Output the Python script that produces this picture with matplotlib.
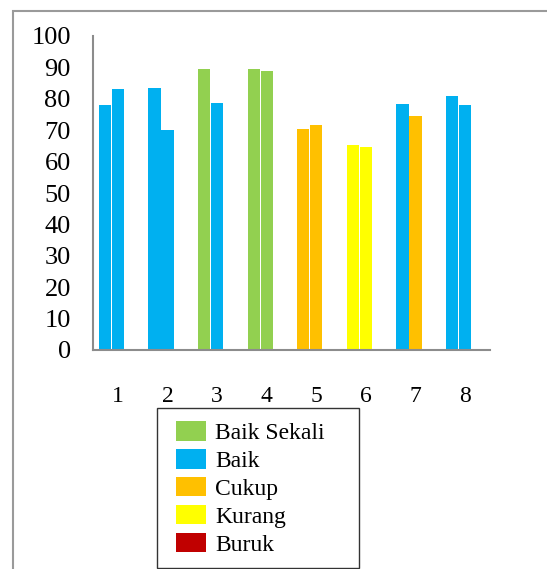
import numpy as np
import matplotlib
matplotlib.use("Agg")
import matplotlib.pyplot as plt
from matplotlib.patches import Rectangle, Patch

plt.rcParams["font.family"] = ["Liberation Serif", "DejaVu Serif"]

# data
groups = ["1", "2", "3", "4", "5", "6", "7", "8"]
vals_a = [78, 83.5, 89.5, 89.5, 70.5, 65.4, 78.5, 80.9]
vals_b = [83, 70, 78.8, 88.9, 71.8, 64.7, 74.5, 77.9]
kat_a = ["Baik", "Baik", "Baik Sekali", "Baik Sekali", "Cukup", "Kurang", "Baik", "Baik"]
kat_b = ["Baik", "Baik", "Baik", "Baik Sekali", "Cukup", "Kurang", "Cukup", "Baik"]

kategori = ["Baik Sekali", "Baik", "Cukup", "Kurang", "Buruk"]
warna = {"Baik Sekali": "#92D050", "Baik": "#00B0F0", "Cukup": "#FFC000",
         "Kurang": "#FFFF00", "Buruk": "#C00000"}

fig = plt.figure(figsize=(5.47, 5.69), dpi=100)
ax = fig.add_axes([93 / 547, 1 - 350 / 569, 397 / 547, 314 / 569])

x = np.arange(len(groups))
w = 0.262
ax.bar(x - w, vals_a, width=w * 0.95, color=[warna[k] for k in kat_a], linewidth=0)
ax.bar(x, vals_b, width=w * 0.95, color=[warna[k] for k in kat_b], linewidth=0)

ax.set_xlim(-0.5, len(groups) - 0.5)
ax.set_ylim(0, 100)
ax.set_yticks(range(0, 101, 10))
ax.set_xticks(x)
ax.set_xticklabels(groups)
ax.tick_params(axis="y", length=0, pad=16, labelsize=19)
ax.tick_params(axis="x", length=0, pad=26, labelsize=17)

for s in ["top", "right"]:
    ax.spines[s].set_visible(False)
for s in ["left", "bottom"]:
    ax.spines[s].set_color("#8c8c8c")
    ax.spines[s].set_linewidth(1.5)

# bingkai luar (terpotong di kanan dan bawah)
fig.patches.append(Rectangle((13 / 547, -0.1), 1.2, 1 - 10.5 / 569 + 0.1,
                             transform=fig.transFigure, fill=False,
                             edgecolor="#9a9a9a", linewidth=1.5))

# kotak legenda
fig.patches.append(Rectangle((157 / 547, 1 - 568 / 569), 202 / 547, 160 / 569,
                             transform=fig.transFigure, fill=False,
                             edgecolor="#333333", linewidth=1.0))

handles = [Patch(facecolor=warna[k], edgecolor="none") for k in kategori]
fig.legend(handles, kategori, loc="upper left",
           bbox_to_anchor=(176 / 547, 1 - 421 / 569),
           frameon=False, fontsize=17, handlelength=1.25, handleheight=0.9,
           handletextpad=0.4, labelspacing=0.21, borderpad=0, borderaxespad=0)

plt.savefig("out.png", dpi=100)
